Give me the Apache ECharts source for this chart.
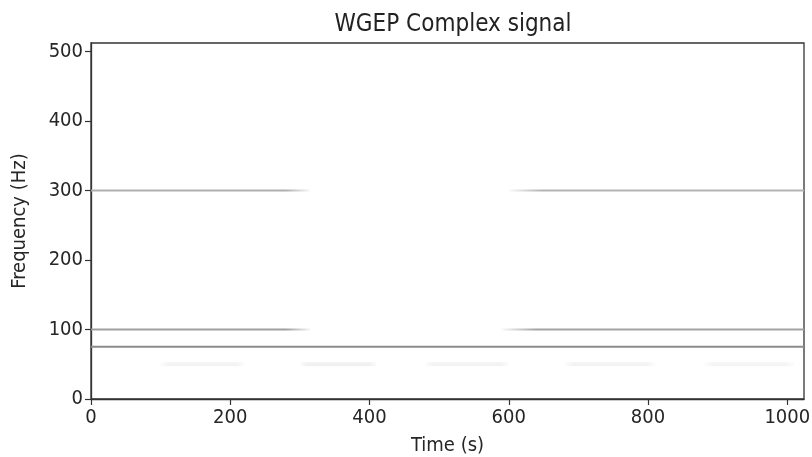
<!DOCTYPE html>
<html>
<head>
<meta charset="utf-8">
<script src="https://cdn.jsdelivr.net/npm/echarts@6/dist/echarts.min.js"></script>
<style>
  html, body { margin: 0; padding: 0; background: #fff; }
  #main { width: 812px; height: 457px; }
</style>
</head>
<body>
<div id="main"></div>
<script>
var chart = echarts.init(document.getElementById('main'));

// tick labels
var timeTicks = [0, 200, 400, 600, 800, 1000];
var freqTicks = [0, 100, 200, 300, 400, 500];

// ridges of the distribution: frequency (Hz), start / end time (s), intensity 0..1
var ridgeFreq  = [300, 300, 100, 100, 75, 50, 50, 50, 50, 50];
var ridgeStart = [0, 600, 0, 590, 0, 100, 300, 480, 680, 880];
var ridgeEnd   = [315, 1024, 315, 1024, 1024, 220, 410, 600, 810, 1010];
var ridgeLevel = [0.4, 0.38, 0.48, 0.46, 0.58, 0.06, 0.07, 0.06, 0.06, 0.05];

function grey(level, a) {
  var v = Math.round(255 - level * 200);
  return 'rgba(' + v + ',' + v + ',' + v + ',' + a + ')';
}

var series = [];
for (var i = 0; i < ridgeFreq.length; i++) {
  var faint = ridgeLevel[i] < 0.2;
  var fadeIn = ridgeStart[i] > 0, fadeOut = ridgeEnd[i] < 1024;
  series.push({
    type: 'line',
    symbol: 'none',
    silent: true,
    data: [[ridgeStart[i], ridgeFreq[i]], [ridgeEnd[i], ridgeFreq[i]]],
    lineStyle: {
      width: faint ? 4 : 2,
      color: new echarts.graphic.LinearGradient(0, 0, 1, 0, [
        { offset: 0, color: grey(ridgeLevel[i], fadeIn || faint ? 0 : 1) },
        { offset: 0.12, color: grey(ridgeLevel[i], 1) },
        { offset: 0.88, color: grey(ridgeLevel[i], 1) },
        { offset: 1, color: grey(ridgeLevel[i], fadeOut || faint ? 0 : 1) }
      ])
    }
  });
}

var txt = '#262626';
var font = 'DejaVu Sans Condensed';
var option = {
  animation: false,
  title: {
    text: 'WGEP Complex signal',
    left: 448,
    textAlign: 'center',
    top: 8,
    textStyle: { fontFamily: font, fontSize: 24, fontWeight: 'normal', color: '#222' }
  },
  grid: {
    left: 91, right: 8, top: 43, bottom: 58,
    outerBoundsMode: 'none', containLabel: false,
    show: true, borderColor: '#333', borderWidth: 1.3, backgroundColor: '#fff'
  },
  xAxis: {
    type: 'value', min: 0, max: 1024,
    name: 'Time (s)', nameLocation: 'middle', nameGap: 37,
    nameTextStyle: { fontFamily: font, fontSize: 20, color: txt },
    axisLine: { show: true, onZero: false, lineStyle: { color: '#333', width: 1.3 } },
    axisTick: { show: true, length: 6, customValues: timeTicks, lineStyle: { color: '#333', width: 1.2 } },
    axisLabel: {
      customValues: timeTicks, fontFamily: font, fontSize: 20, color: txt, margin: 9,
      formatter: function (v) { return String(v); }
    },
    splitLine: { show: false }
  },
  yAxis: {
    type: 'value', min: 0, max: 512,
    name: 'Frequency (Hz)', nameLocation: 'middle', nameGap: 61, nameRotate: 90,
    nameTextStyle: { fontFamily: font, fontSize: 20, color: txt },
    axisLine: { show: true, onZero: false, lineStyle: { color: '#333', width: 1.3 } },
    axisTick: { show: true, length: 6, customValues: freqTicks, lineStyle: { color: '#333', width: 1.2 } },
    axisLabel: { customValues: freqTicks, fontFamily: font, fontSize: 20, color: txt, margin: 8 },
    splitLine: { show: false }
  },
  series: series
};

chart.setOption(option);
</script>
</body>
</html>
